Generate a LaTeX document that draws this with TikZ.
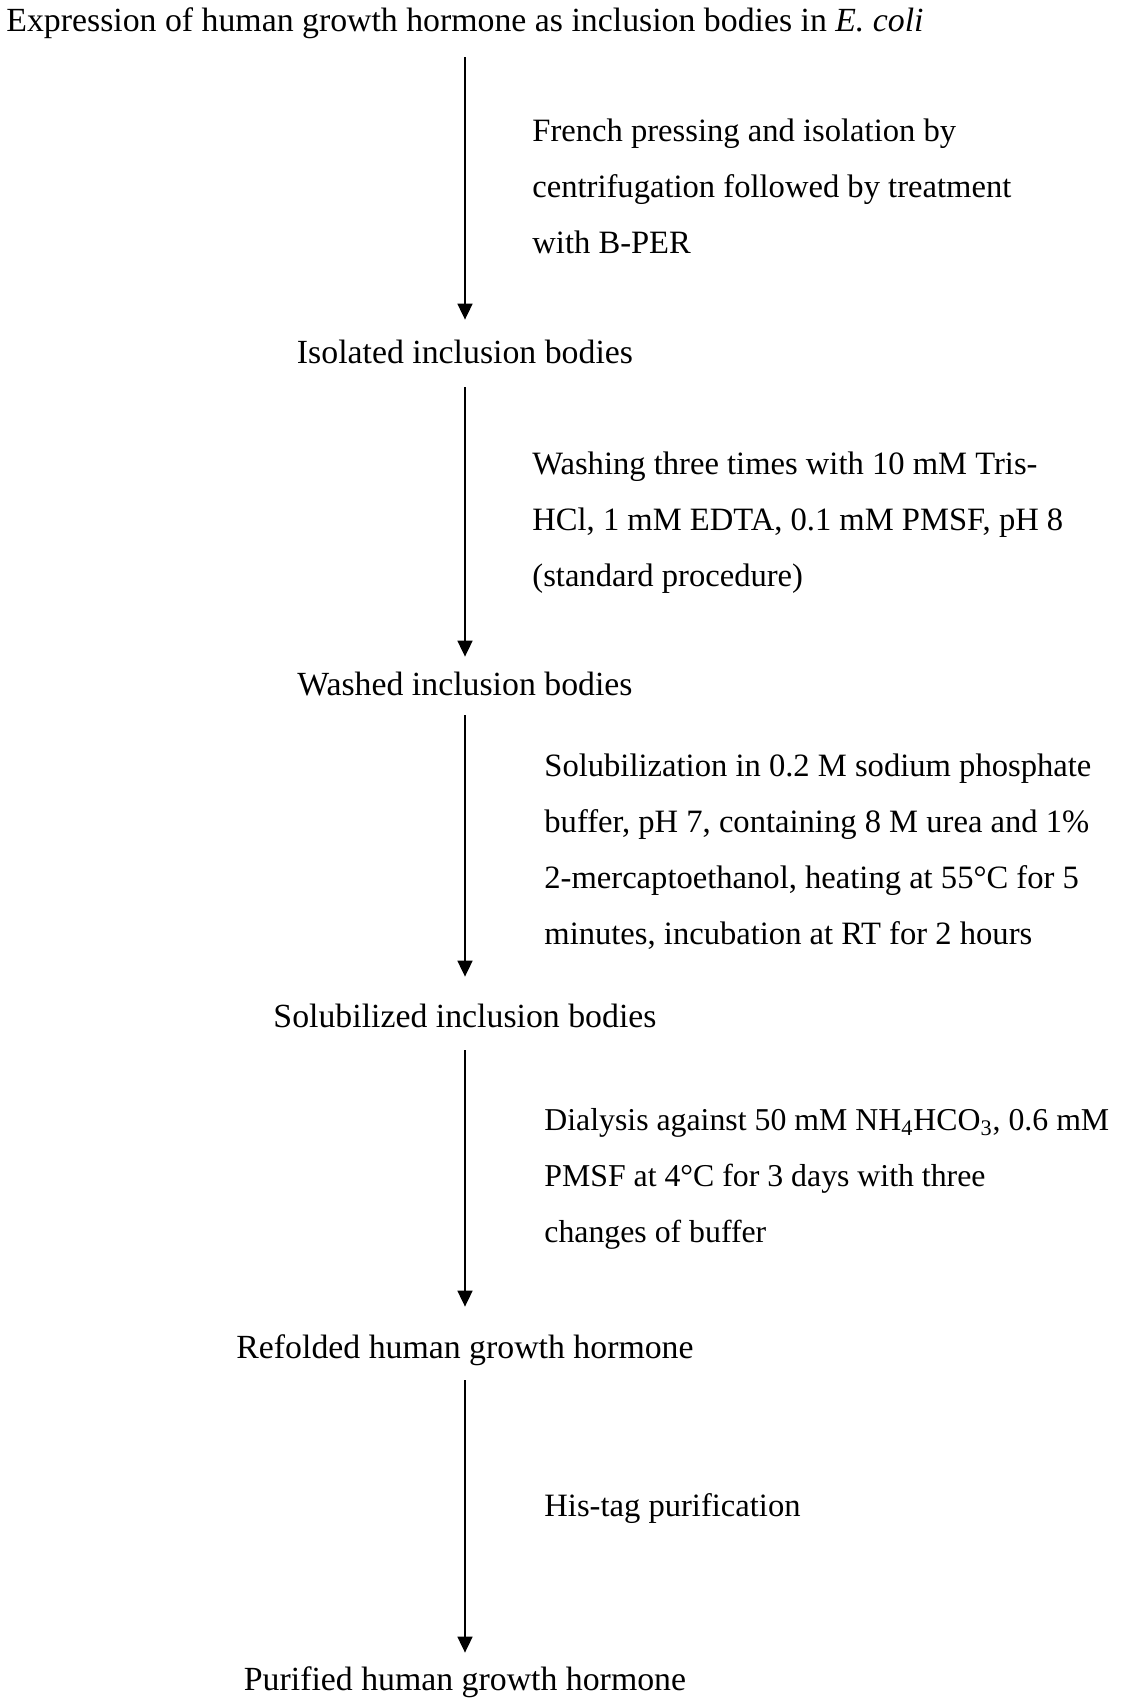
\documentclass[tikz,border=0pt]{standalone}
\usepackage{fontspec}
\setmainfont{Liberation Serif}
\usetikzlibrary{arrows.meta}
\begin{document}
\begin{tikzpicture}[
  x=0.5pt,
  y=-0.5pt,
  font=\fontsize{16.9pt}{28pt}\selectfont,
  stage/.style={
    inner sep=0pt,
    text height=12pt,
    text depth=4pt,
    anchor=base
  },
  note/.style={
    inner sep=0pt,
    anchor=base west,
    align=left,
    font=\fontsize{16.3pt}{28pt}\selectfont
  },
  flow/.style={-{Triangle[length=8pt, width=7.5pt]}, line width=0.9pt}
]
\useasboundingbox (0,0) rectangle (1121,1698);

\node[stage] (expression) at (465,31) {Expression of human growth hormone as inclusion bodies in \textit{E. coli}};
\node[stage] (isolated) at (465,363) {Isolated inclusion bodies};
\node[stage] (washed) at (465,695) {Washed inclusion bodies};
\node[stage] (solubilized) at (465,1027) {Solubilized inclusion bodies};
\node[stage] (refolded) at (465,1358) {Refolded human growth hormone};
\node[stage] (purified) at (465,1690) {Purified human growth hormone};

% notes: base is the last line
\node[note] (pressing) at (532,253) {French pressing and isolation by\\centrifugation followed by treatment\\with B-PER};
\node[note] (washing) at (532,586) {Washing three times with 10 mM Tris-\\HCl, 1 mM EDTA, 0.1 mM PMSF, pH 8\\(standard procedure)};
\node[note] (solubilization) at (544,944) {Solubilization in 0.2 M sodium phosphate\\buffer, pH 7, containing 8 M urea and 1\%\\2-mercaptoethanol, heating at 55°C for 5\\minutes, incubation at RT for 2 hours};
\node[note, font=\fontsize{15.9pt}{28pt}\selectfont] (dialysis) at (544,1242) {Dialysis against 50 mM NH\textsubscript{4}HCO\textsubscript{3}, 0.6 mM\\PMSF at 4°C for 3 days with three\\changes of buffer};
\node[note] (histag) at (544,1516) {His-tag purification};

\draw[flow, shorten <=9pt, shorten >=9.5pt] (expression) -- (isolated);
\draw[flow, shorten <=8pt, shorten >=7pt] (isolated) -- (washed);
\draw[flow, shorten <=6pt, shorten >=13pt] (washed) -- (solubilized);
\draw[flow, shorten <=7.5pt, shorten >=13.5pt] (solubilized) -- (refolded);
\draw[flow, shorten <=7pt, shorten >=6.5pt] (refolded) -- (purified);

\end{tikzpicture}
\end{document}
